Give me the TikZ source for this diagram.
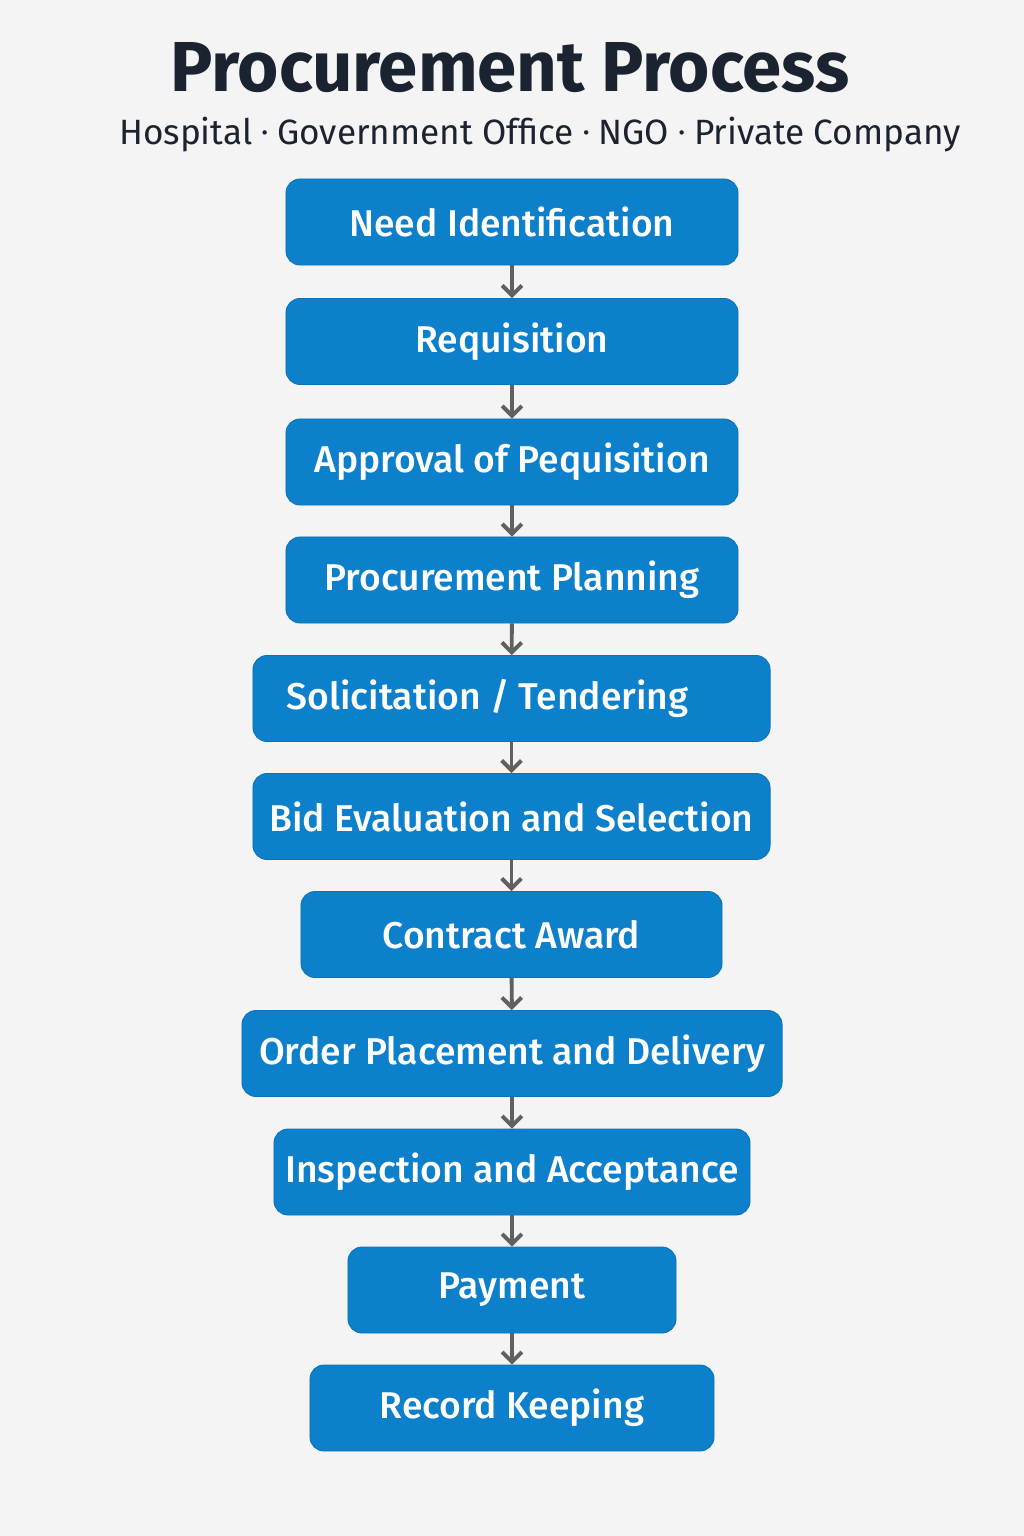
\documentclass[tikz,border=0pt]{standalone}
\usepackage{fontspec}
\setmainfont{Fira Sans}
\newfontfamily\stagefont{Fira Sans}[UprightFont=* Medium]
\usetikzlibrary{arrows.meta,positioning}

\definecolor{bgc}{HTML}{F4F4F4}
\definecolor{stagec}{HTML}{0D80CC}
\definecolor{stageb}{HTML}{0B72B8}
\definecolor{titlec}{HTML}{1B2330}
\definecolor{arrowc}{HTML}{606060}

\newcommand{\sepdot}{\ \raisebox{0.28ex}{\scalebox{0.55}{\textbullet}}\ }

\begin{document}
\begin{tikzpicture}[x=0.025cm, y=-0.025cm,
	stage/.style={draw=stageb, line width=0.6pt, fill=stagec, rounded corners=10pt,
		minimum height=2.15cm, inner sep=0pt, text=white,
		font=\stagefont\fontsize{26.5}{30}\selectfont},
	flow/.style={draw=arrowc, line width=2.8pt, -{Straight Barb[length=7pt, width=14pt, line width=2.8pt]}}]
	% background and page size
	\fill[bgc] (0,0) rectangle (1024,1536);
	\useasboundingbox (0,0) rectangle (1024,1536);
	% heading
	\node[text=titlec, font=\bfseries\fontsize{50.3}{58}\selectfont] (title) at (510,68) {Procurement Process};
	\node[text=titlec, font=\fontsize{25}{29}\selectfont] (sub) at (540,135) {Hospital\sepdot Government Office\sepdot NGO\sepdot Private Company};
	% stages
	\node[stage, minimum width=11.3cm] (need) at (512,222) {Need Identification};
	\node[stage, minimum width=11.3cm] (req) at (512,341.5) {Requisition};
	\node[stage, minimum width=11.3cm] (appr) at (512,462) {Approval of Pequisition};
	\node[stage, minimum width=11.3cm] (plan) at (512,580) {Procurement Planning};
	\node[stage, minimum width=12.925cm] (tender) at (511.5,698.5) {Solicitation / Tendering\hspace*{1.2cm}};
	\node[stage, minimum width=12.925cm] (bid) at (511.5,816.5) {Bid Evaluation and Selection};
	\node[stage, minimum width=10.525cm] (award) at (511.5,934.5) {Contract Award};
	\node[stage, minimum width=13.5cm] (order) at (512,1053.5) {Order Placement and Delivery};
	\node[stage, minimum width=11.9cm] (insp) at (512,1172) {Inspection and Acceptance};
	\node[stage, minimum width=8.2cm] (pay) at (512,1290) {Payment};
	\node[stage, minimum width=10.1cm] (rec) at (512,1408) {Record Keeping};
	% arrows
	\draw[flow] (need) -- (req);
	\draw[flow] (req) -- (appr);
	\draw[flow] (appr) -- (plan);
	\draw[flow] (plan) -- (tender);
	\draw[flow] (tender) -- (bid);
	\draw[flow] (bid) -- (award);
	\draw[flow] (award) -- (order);
	\draw[flow] (order) -- (insp);
	\draw[flow] (insp) -- (pay);
	\draw[flow] (pay) -- (rec);
\end{tikzpicture}
\end{document}
